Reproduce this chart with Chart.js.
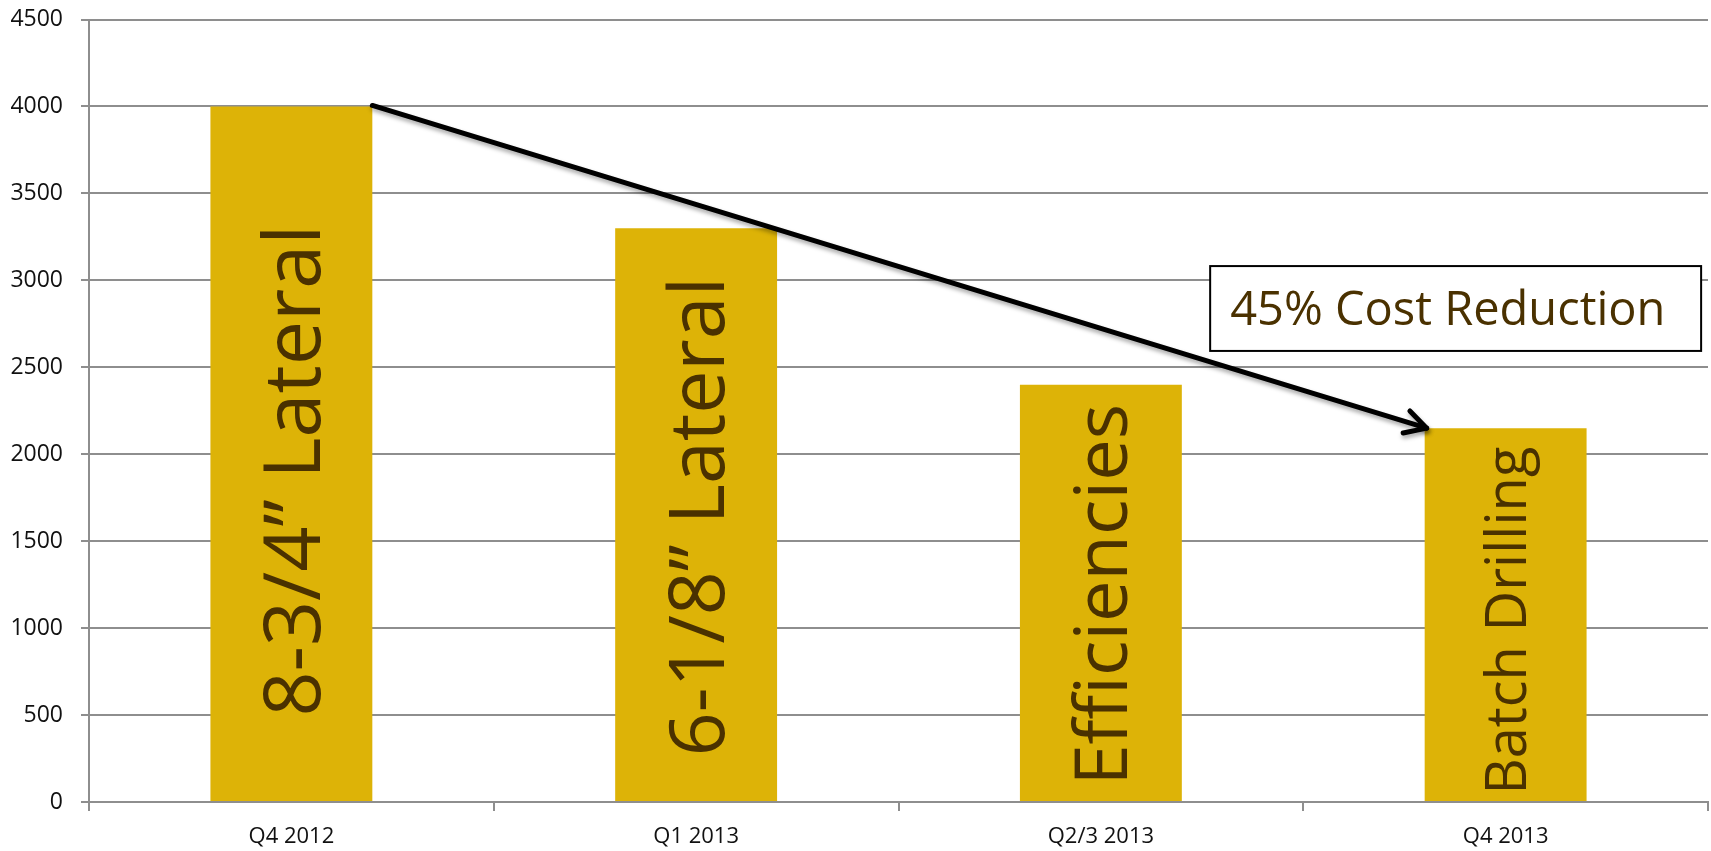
<!DOCTYPE html>
<html>
<head>
<meta charset="utf-8">
<script src="https://cdn.jsdelivr.net/npm/chart.js@4/dist/chart.umd.min.js"></script>
<style>
html,body{margin:0;padding:0;background:#fff;}
canvas{display:block;}
</style>
</head>
<body>
<canvas id="c" width="1711" height="851"></canvas>
<script>
// ---- data ----
const categories = ["Q4 2012", "Q1 2013", "Q2/3 2013", "Q4 2013"];
const costValues = [4000, 3300, 2400, 2150];
const barLabels = ["8-3/4\u201D Lateral", "6-1/8\u201D Lateral", "Efficiencies", "Batch Drilling"];
const annotationText = "45% Cost Reduction";

// ---- styles ----
const BAR_COLOR = "#DDB307";
const TEXT_BROWN = "#4A3100";
const GRID_COLOR = "#8E8E8E";
const FONT = "'Open Sans', 'DejaVu Sans', sans-serif";
const barLabelStyle = [
  {size: 79, dy: 17},
  {size: 77, dy: 2},
  {size: 74, dy: 2},
  {size: 56, dy: 6}
];
// annotation box in data units (category index, value)
const boxSpec = {x0: 2.270, x1: 3.483, yTop: 3082, yBottom: 2594, fontSize: 47, padLeft: 20};

const overlayPlugin = {
  id: "overlay",
  afterDatasetsDraw(chart) {
    const ctx = chart.ctx;
    const meta = chart.getDatasetMeta(0);
    const xs = chart.scales.x, ys = chart.scales.y;
    // rotated labels inside bars
    meta.data.forEach((bar, i) => {
      const st = barLabelStyle[i];
      const cx = bar.x;
      const cy = (bar.y + bar.base) / 2 + st.dy;
      ctx.save();
      ctx.translate(cx, cy);
      ctx.rotate(-Math.PI / 2);
      ctx.font = st.size + "px " + FONT;
      ctx.fillStyle = TEXT_BROWN;
      ctx.textAlign = "center";
      ctx.textBaseline = "alphabetic";
      ctx.fillText(barLabels[i], 0, st.size * 0.714 / 2);
      ctx.restore();
    });
    // arrow from top-right of first bar to top-left of last bar
    const b0 = meta.data[0], b3 = meta.data[meta.data.length - 1];
    const sx = b0.x + b0.width / 2, sy = b0.y - 1;
    const ex = b3.x - b3.width / 2 + 2, ey = b3.y;
    const ang = Math.atan2(ey - sy, ex - sx);
    const armLen = 24, armAng = 0.5;
    ctx.save();
    ctx.shadowColor = "rgba(0,0,0,0.35)";
    ctx.shadowBlur = 4;
    ctx.shadowOffsetX = 1;
    ctx.shadowOffsetY = 3;
    ctx.strokeStyle = "#000";
    ctx.lineWidth = 5;
    ctx.lineCap = "round";
    ctx.lineJoin = "round";
    ctx.beginPath();
    ctx.moveTo(sx, sy);
    ctx.lineTo(ex, ey);
    ctx.stroke();
    ctx.beginPath();
    ctx.moveTo(ex - armLen * Math.cos(ang - armAng), ey - armLen * Math.sin(ang - armAng));
    ctx.lineTo(ex, ey);
    ctx.lineTo(ex - armLen * Math.cos(ang + armAng), ey - armLen * Math.sin(ang + armAng));
    ctx.stroke();
    ctx.restore();
    // annotation box
    const bx0 = xs.getPixelForValue(boxSpec.x0), bx1 = xs.getPixelForValue(boxSpec.x1);
    const by0 = ys.getPixelForValue(boxSpec.yTop), by1 = ys.getPixelForValue(boxSpec.yBottom);
    ctx.save();
    ctx.fillStyle = "#fff";
    ctx.fillRect(bx0, by0, bx1 - bx0, by1 - by0);
    ctx.strokeStyle = "#000";
    ctx.lineWidth = 2;
    ctx.strokeRect(bx0, by0, bx1 - bx0, by1 - by0);
    ctx.font = boxSpec.fontSize + "px " + FONT;
    ctx.fillStyle = TEXT_BROWN;
    ctx.textAlign = "left";
    ctx.textBaseline = "alphabetic";
    ctx.fillText(annotationText, bx0 + boxSpec.padLeft, (by0 + by1) / 2 + boxSpec.fontSize * 0.714 / 2);
    ctx.restore();
  }
};

new Chart(document.getElementById("c"), {
  type: "bar",
  data: {
    labels: categories,
    datasets: [{
      data: costValues,
      backgroundColor: BAR_COLOR,
      borderWidth: 0,
      categoryPercentage: 1.0,
      barPercentage: 0.4
    }]
  },
  options: {
    responsive: false,
    devicePixelRatio: 1,
    animation: false,
    layout: {padding: {top: 19.5, right: 3, left: 0, bottom: 0}},
    plugins: {legend: {display: false}, tooltip: {enabled: false}},
    scales: {
      x: {
        offset: true,
        grid: {display: true, drawOnChartArea: false, drawTicks: true, tickLength: 9, color: GRID_COLOR, lineWidth: 2, offset: true},
        border: {display: true, color: GRID_COLOR, width: 2},
        ticks: {color: "#111", font: {family: FONT, size: 22}, padding: 13, maxRotation: 0},
        afterFit(scale) { scale.height = 49; }
      },
      y: {
        min: 0, max: 4500,
        ticks: {stepSize: 500, color: "#111", font: {family: FONT, size: 23}, padding: 18,
                callback: (v) => String(v)},
        grid: {color: GRID_COLOR, lineWidth: 2, tickLength: 8, drawTicks: true},
        border: {display: true, color: GRID_COLOR, width: 2},
        afterFit(scale) { scale.width = 89; scale.paddingTop = 0; scale.paddingBottom = 0; }
      }
    }
  },
  plugins: [overlayPlugin]
});
</script>
</body>
</html>
